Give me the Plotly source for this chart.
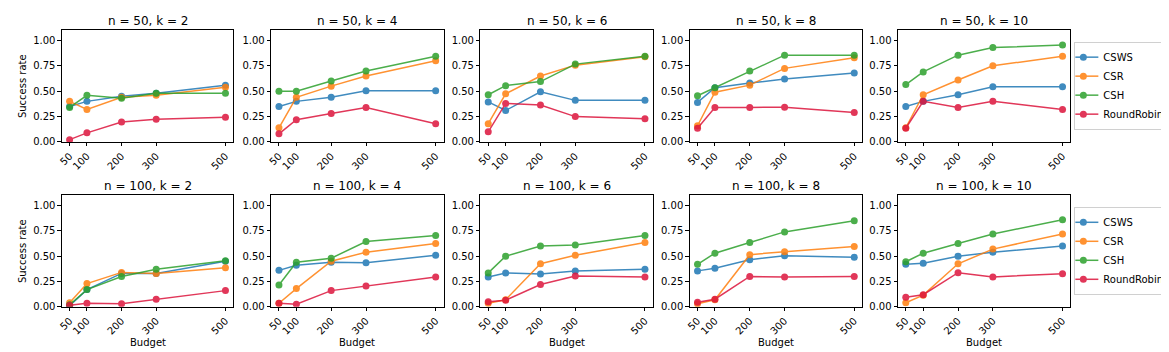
import plotly.graph_objects as go

budgets = [50, 100, 200, 300, 500]
budget_labels = ["50", "100", "200", "300", "500"]
y_ticks = [0.0, 0.25, 0.5, 0.75, 1.0]
ns = [50, 100]
ks = [2, 4, 6, 8, 10]
methods = ["CSWS", "CSR", "CSH", "RoundRobin"]
colors = ["#1f77b4", "#ff7f0e", "#2ca02c", "#dc143c"]

# success rates, indexed [n][k] -> list per budget
csws_50 = {2: [0.35, 0.40, 0.45, 0.48, 0.56], 4: [0.35, 0.40, 0.44, 0.505, 0.505],
           6: [0.395, 0.31, 0.495, 0.41, 0.41], 8: [0.39, 0.535, 0.58, 0.62, 0.68],
           10: [0.35, 0.40, 0.465, 0.544, 0.544]}
csr_50 = {2: [0.40, 0.32, 0.44, 0.46, 0.54], 4: [0.14, 0.44, 0.55, 0.65, 0.80],
          6: [0.18, 0.475, 0.65, 0.757, 0.84], 8: [0.16, 0.49, 0.56, 0.725, 0.83],
          10: [0.14, 0.465, 0.61, 0.75, 0.845]}
csh_50 = {2: [0.34, 0.46, 0.43, 0.48, 0.48], 4: [0.50, 0.50, 0.60, 0.70, 0.845],
          6: [0.465, 0.555, 0.595, 0.767, 0.845], 8: [0.455, 0.535, 0.70, 0.855, 0.855],
          10: [0.565, 0.69, 0.855, 0.93, 0.955]}
rr_50 = {2: [0.023, 0.09, 0.197, 0.223, 0.243], 4: [0.08, 0.22, 0.28, 0.34, 0.18],
         6: [0.10, 0.38, 0.365, 0.25, 0.23], 8: [0.135, 0.34, 0.34, 0.343, 0.29],
         10: [0.135, 0.40, 0.34, 0.40, 0.32]}

csws_100 = {2: [0.01, 0.17, 0.33, 0.33, 0.45], 4: [0.36, 0.41, 0.44, 0.435, 0.51],
            6: [0.295, 0.335, 0.325, 0.355, 0.37], 8: [0.355, 0.38, 0.465, 0.505, 0.49],
            10: [0.42, 0.43, 0.50, 0.54, 0.60]}
csr_100 = {2: [0.04, 0.23, 0.34, 0.33, 0.385], 4: [0.035, 0.18, 0.45, 0.54, 0.625],
           6: [0.035, 0.07, 0.425, 0.51, 0.635], 8: [0.03, 0.07, 0.515, 0.545, 0.595],
           10: [0.04, 0.115, 0.425, 0.57, 0.72]}
csh_100 = {2: [0.02, 0.17, 0.30, 0.37, 0.455], 4: [0.215, 0.44, 0.48, 0.645, 0.705],
           6: [0.335, 0.50, 0.60, 0.61, 0.705], 8: [0.42, 0.53, 0.635, 0.74, 0.85],
           10: [0.445, 0.53, 0.625, 0.72, 0.86]}
rr_100 = {2: [0.015, 0.035, 0.03, 0.075, 0.16], 4: [0.035, 0.025, 0.16, 0.205, 0.295],
          6: [0.05, 0.065, 0.22, 0.305, 0.295], 8: [0.045, 0.075, 0.30, 0.295, 0.30],
          10: [0.095, 0.12, 0.337, 0.295, 0.327]}

data = {
    50: [csws_50, csr_50, csh_50, rr_50],
    100: [csws_100, csr_100, csh_100, rr_100],
}

W, H = 1169, 352
col_px = [(50, 222), (260, 433), (470, 643), (680, 853), (889, 1062)]
row_px = [(22.7, 136.3), (190.7, 304.0)]
FONT = "DejaVu Sans"

fig = go.Figure()
layout = {}
annotations = []
idx = 0
for r, n in enumerate(ns):
    for c, k in enumerate(ks):
        idx += 1
        xa = "x" if idx == 1 else f"x{idx}"
        ya = "y" if idx == 1 else f"y{idx}"
        xkey = "xaxis" if idx == 1 else f"xaxis{idx}"
        ykey = "yaxis" if idx == 1 else f"yaxis{idx}"
        x0, x1 = col_px[c]
        t0, t1 = row_px[r]
        layout[xkey] = dict(
            domain=[x0 / W, x1 / W], anchor=ya, range=[27.5, 522.5],
            tickmode="array", tickvals=budgets, ticktext=budget_labels,
            tickangle=-45, ticks="outside", ticklen=3.5, tickwidth=0.8,
            tickcolor="black", showline=True, linecolor="black", linewidth=0.8,
            mirror=True, showgrid=False, zeroline=False,
            tickfont=dict(family=FONT, size=10, color="black"),
        )
        layout[ykey] = dict(
            domain=[1 - t1 / H, 1 - t0 / H], anchor=xa, range=[0, 1.1],
            tickmode="array", tickvals=y_ticks, tickformat=".2f",
            ticks="outside", ticklen=3.5, tickwidth=0.8, tickcolor="black",
            showline=True, linecolor="black", linewidth=0.8, mirror=True,
            showgrid=False, zeroline=False,
            tickfont=dict(family=FONT, size=10, color="black"),
        )
        for m, (name, col) in enumerate(zip(methods, colors)):
            show = (c == len(ks) - 1)
            fig.add_trace(go.Scatter(
                x=budgets, y=data[n][m][k], mode="lines+markers", name=name,
                line=dict(color=col, width=1.5), marker=dict(color=col, size=7),
                opacity=0.85, xaxis=xa, yaxis=ya, showlegend=show,
                legend="legend" if r == 0 else "legend2",
            ))
        annotations.append(dict(
            text=f"n = {n}, k = {k}", x=(x0 + x1) / 2 / W, y=1 - (t0 - 9.5) / H,
            xref="paper", yref="paper", showarrow=False, xanchor="center",
            yanchor="middle", font=dict(family=FONT, size=12, color="black"),
        ))
        if r == 1:
            annotations.append(dict(
                text="Budget", x=(x0 + x1) / 2 / W, y=1 - 340 / H,
                xref="paper", yref="paper", showarrow=False, xanchor="center",
                yanchor="middle", font=dict(family=FONT, size=10, color="black"),
            ))
        if c == 0:
            annotations.append(dict(
                text="Success rate", x=10 / W, y=1 - (t0 + t1) / 2 / H,
                xref="paper", yref="paper", showarrow=False, textangle=-90,
                xanchor="center", yanchor="middle",
                font=dict(family=FONT, size=10, color="black"),
            ))

legend_style = dict(
    xanchor="left", yanchor="middle", bgcolor="white", bordercolor="#d0d0d0",
    borderwidth=1, font=dict(family=FONT, size=10, color="black"),
    tracegroupgap=0, itemwidth=30, indentation=-12,
)
fig.update_layout(
    width=W, height=H, margin=dict(l=0, r=0, t=0, b=0),
    plot_bgcolor="white", paper_bgcolor="white",
    annotations=annotations,
    legend=dict(x=1066 / W, y=1 - 79 / H, **legend_style),
    legend2=dict(x=1066 / W, y=1 - 247 / H, **legend_style),
    **layout,
)
fig.write_html("out.html")
